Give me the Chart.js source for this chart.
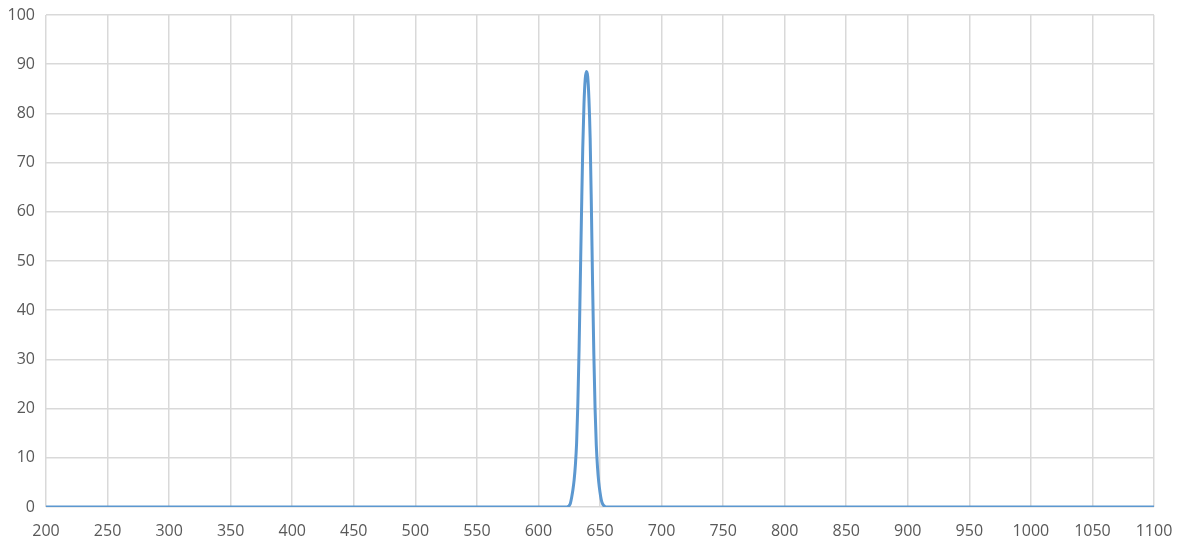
<!DOCTYPE html>
<html lang="en">
<head>
    <meta charset="UTF-8">
    <title>Transmission Spectrum</title>
    <script src="https://cdn.jsdelivr.net/npm/chart.js"></script>
    <style>
        body {
            margin: 0;
            background: #fff;
        }
        #wrap {
            width: 1180px;
            height: 544px;
        }
    </style>
</head>
<body>
    <div id="wrap"><canvas id="myChart"></canvas></div>

    <script>
        // wavelength (nm) and transmission (%)
        const wavelengths = [200, 300, 400, 500, 560, 600, 615, 620, 623,
            624, 625, 626, 627, 628, 629, 630, 631, 632, 633, 634, 635, 636, 637, 638,
            639, 640, 641, 642, 643, 644, 645, 646, 647, 648, 649, 650, 651, 652, 653,
            654, 655, 660, 680, 700, 800, 900, 1000, 1100];
        const transmission = [0, 0, 0, 0, 0, 0, 0, 0, 0,
            0.1, 0.3, 0.8, 2, 3.5, 5.5, 8.5, 13, 21, 32, 46, 60, 73, 82, 87,
            88.5, 87.5, 83, 75, 61, 45, 31, 20, 12.5, 8, 5, 3, 1.5, 0.7, 0.3,
            0.1, 0, 0, 0, 0, 0, 0, 0, 0];

        const xTicks = [200, 1100, 50];   // min, max, step
        const yTicks = [0, 100, 10];

        const points = wavelengths.map((w, i) => ({ x: w, y: transmission[i] }));

        const tickFont = { family: 'Open Sans', size: 16 };

        const ctx = document.getElementById('myChart').getContext('2d');
        const myChart = new Chart(ctx, {
            type: 'line',
            data: {
                datasets: [{
                    label: 'Transmission',
                    data: points,
                    borderColor: 'rgb(92, 152, 208)',
                    borderWidth: 3,
                    pointRadius: 0,
                    cubicInterpolationMode: 'monotone',
                    fill: false
                }]
            },
            options: {
                responsive: true,
                maintainAspectRatio: false,
                animation: false,
                layout: {
                    padding: { left: 0, top: 15, right: 26, bottom: 0 }
                },
                plugins: {
                    legend: { display: false },
                    tooltip: { enabled: false }
                },
                scales: {
                    x: {
                        type: 'linear',
                        min: xTicks[0],
                        max: xTicks[1],
                        // fixed axis box so the plot area sits where the picture has it
                        afterFit: s => {
                            s.height = 37;
                            s.paddingLeft = 0;
                            s.paddingRight = 0;
                        },
                        border: { display: false },
                        grid: { color: '#d9d9d9', lineWidth: 1.5, drawTicks: false },
                        ticks: {
                            stepSize: xTicks[2],
                            padding: 15,
                            color: '#595959',
                            font: tickFont,
                            maxRotation: 0,
                            autoSkip: false,
                            callback: v => String(v)
                        }
                    },
                    y: {
                        min: yTicks[0],
                        max: yTicks[1],
                        afterFit: s => {
                            s.width = 46;
                            s.paddingTop = 0;
                            s.paddingBottom = 0;
                        },
                        border: { display: false },
                        grid: { color: '#d9d9d9', lineWidth: 1.5, drawTicks: false },
                        ticks: {
                            stepSize: yTicks[2],
                            padding: 11,
                            color: '#595959',
                            font: tickFont
                        }
                    }
                }
            }
        });
    </script>
</body>
</html>
